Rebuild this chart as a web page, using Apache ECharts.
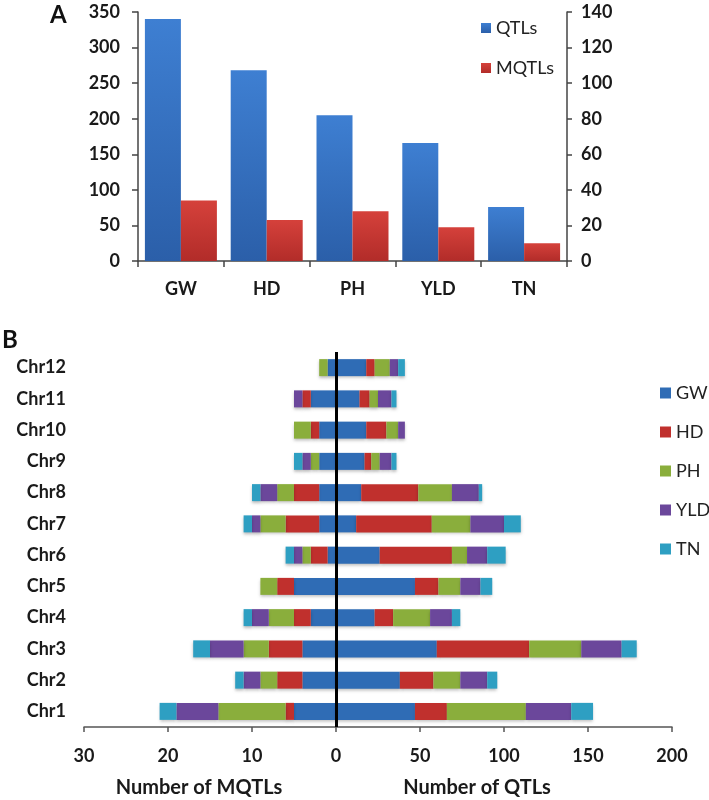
<!DOCTYPE html>
<html>
<head>
<meta charset="utf-8">
<script src="https://cdn.jsdelivr.net/npm/echarts@6/dist/echarts.min.js"></script>
<style>
html, body { margin: 0; padding: 0; background: #fff; }
#main { width: 709px; height: 800px; }
</style>
</head>
<body>
<div id="main"></div>
<script>
// panel A: totals per trait
var traits = ['GW', 'HD', 'PH', 'YLD', 'TN'];
var qtlTotals = [340, 268, 205, 166, 76];
var mqtlTotals = [34, 23, 28, 19, 10];

// panel B: counts per chromosome (Chr1 .. Chr12), one array per trait
var chromosomes = ['Chr1', 'Chr2', 'Chr3', 'Chr4', 'Chr5', 'Chr6', 'Chr7', 'Chr8', 'Chr9', 'Chr10', 'Chr11', 'Chr12'];
var mqtlGW  = [5, 4, 4, 3, 5, 1, 2, 2, 2, 2, 3, 1];
var mqtlHD  = [1, 3, 4, 2, 2, 2, 4, 3, 0, 1, 1, 0];
var mqtlPH  = [8, 2, 3, 3, 2, 1, 3, 2, 1, 2, 0, 1];
var mqtlYLD = [5, 2, 4, 2, 0, 1, 1, 2, 1, 0, 1, 0];
var mqtlTN  = [2, 1, 2, 1, 0, 1, 1, 1, 1, 0, 0, 0];
var qtlGW   = [47, 38, 60, 23, 47, 26, 12, 15, 17, 18, 14, 18];
var qtlHD   = [19, 20, 55, 11, 14, 43, 45, 34, 4, 12, 6, 5];
var qtlPH   = [47, 16, 31, 22, 13, 9, 23, 20, 5, 7, 5, 9];
var qtlYLD  = [27, 16, 24, 13, 12, 12, 20, 16, 7, 4, 8, 5];
var qtlTN   = [13, 6, 9, 5, 7, 11, 10, 2, 3, 0, 3, 4];

var mqtlByTrait = [mqtlGW, mqtlHD, mqtlPH, mqtlYLD, mqtlTN];
var qtlByTrait = [qtlGW, qtlHD, qtlPH, qtlYLD, qtlTN];

// 1 MQTL takes the same width as 5 QTLs on the shared axis (30 <-> 150)
var mqtlScale = 5;

var traitColors = ['#2f6cb5', '#c0302d', '#8aae3c', '#6b479b', '#2e9fc2'];
var fontName = 'Lato';

var seriesB = [];
for (var i = 0; i < traits.length; i++) {
    var shadow = {
        color: traitColors[i],
        shadowColor: 'rgba(0,0,0,0.25)',
        shadowBlur: 3,
        shadowOffsetY: 2
    };
    seriesB.push({
        name: traits[i],
        type: 'bar',
        xAxisIndex: 1,
        yAxisIndex: 2,
        stack: 'mqtl',
        barWidth: 17,
        barGap: '-100%',
        itemStyle: shadow,
        data: mqtlByTrait[i].map(function (v) { return -v * mqtlScale; })
    });
    seriesB.push({
        name: traits[i],
        type: 'bar',
        xAxisIndex: 1,
        yAxisIndex: 2,
        stack: 'qtl',
        barWidth: 17,
        barGap: '-100%',
        itemStyle: shadow,
        data: qtlByTrait[i]
    });
}
// thick zero line between the two halves
seriesB[seriesB.length - 1].markLine = {
    silent: true,
    symbol: ['none', 'none'],
    label: { show: false },
    lineStyle: { color: '#000', width: 3, type: 'solid' },
    data: [{ xAxis: 0 }]
};

var labelStyle = { color: '#1a1a1a', fontFamily: fontName, fontWeight: 'bold', fontSize: 18 };
var axisLineStyle = { lineStyle: { color: '#444', width: 1.5 } };

var option = {
    animation: false,
    backgroundColor: '#fff',
    grid: [
        { left: 138, right: 142, top: 12, bottom: 539 },
        { left: 84, right: 37, top: 352, bottom: 73 }
    ],
    legend: [
        {
            data: ['QTLs', 'MQTLs'],
            orient: 'vertical',
            left: 476,
            top: 14,
            itemWidth: 10,
            itemHeight: 10,
            itemGap: 22,
            icon: 'rect',
            textStyle: { fontFamily: fontName, fontSize: 18, color: '#222' }
        },
        {
            data: traits,
            orient: 'vertical',
            left: 655,
            top: 379,
            itemWidth: 11,
            itemHeight: 11,
            itemGap: 21,
            icon: 'rect',
            textStyle: { fontFamily: fontName, fontSize: 18, color: '#222' }
        }
    ],
    xAxis: [
        {
            type: 'category',
            gridIndex: 0,
            data: traits,
            axisLine: axisLineStyle,
            axisTick: { show: true, length: 6, lineStyle: { color: '#444', width: 1.5 } },
            axisLabel: Object.assign({ margin: 19 }, labelStyle)
        },
        {
            type: 'value',
            gridIndex: 1,
            min: -30 * mqtlScale,
            max: 200,
            interval: 50,
            splitLine: { show: false },
            axisLine: { show: true, lineStyle: { color: '#555', width: 1.5 } },
            axisTick: { show: true, length: 5, lineStyle: { color: '#555', width: 1.5 } },
            axisLabel: Object.assign({
                margin: 20,
                formatter: function (v) { return v < 0 ? String(-v / mqtlScale) : String(v); }
            }, labelStyle)
        }
    ],
    yAxis: [
        {
            type: 'value',
            gridIndex: 0,
            min: 0,
            max: 350,
            interval: 50,
            splitLine: { show: false },
            axisLine: { show: true, lineStyle: { color: '#444', width: 1.5 } },
            axisTick: { show: true, length: 6, lineStyle: { color: '#444', width: 1.5 } },
            axisLabel: Object.assign({ margin: 18 }, labelStyle)
        },
        {
            type: 'value',
            gridIndex: 0,
            position: 'right',
            min: 0,
            max: 140,
            interval: 20,
            splitLine: { show: false },
            axisLine: { show: true, lineStyle: { color: '#444', width: 1.5 } },
            axisTick: { show: true, length: 5, lineStyle: { color: '#444', width: 1.5 } },
            axisLabel: Object.assign({ margin: 14 }, labelStyle)
        },
        {
            type: 'category',
            gridIndex: 1,
            data: chromosomes,
            axisLine: { show: false, onZero: false },
            axisTick: { show: false },
            axisLabel: Object.assign({ margin: 18 }, labelStyle)
        }
    ],
    graphic: [
        { type: 'text', left: 50, top: 3, style: { text: 'A', fontFamily: fontName, fontWeight: 'bold', fontSize: 24, fill: '#111' } },
        { type: 'text', left: 2, top: 328, style: { text: 'B', fontFamily: fontName, fontWeight: 'bold', fontSize: 24, fill: '#111' } },
        { type: 'text', x: 199, y: 788, style: { text: 'Number of MQTLs', fontFamily: fontName, fontWeight: 'bold', fontSize: 20, fill: '#1a1a1a', align: 'center', verticalAlign: 'middle' } },
        { type: 'text', x: 477, y: 788, style: { text: 'Number of QTLs', fontFamily: fontName, fontWeight: 'bold', fontSize: 20, fill: '#1a1a1a', align: 'center', verticalAlign: 'middle' } }
    ],
    series: [
        {
            name: 'QTLs',
            type: 'bar',
            xAxisIndex: 0,
            yAxisIndex: 0,
            barWidth: 36,
            barGap: '0%',
            itemStyle: {
                color: {
                    type: 'linear', x: 0, y: 0, x2: 0, y2: 1,
                    colorStops: [{ offset: 0, color: '#3e7fd2' }, { offset: 1, color: '#2b5fa9' }]
                }
            },
            data: qtlTotals
        },
        {
            name: 'MQTLs',
            type: 'bar',
            xAxisIndex: 0,
            yAxisIndex: 1,
            barWidth: 36,
            barGap: '0%',
            itemStyle: {
                color: {
                    type: 'linear', x: 0, y: 0, x2: 0, y2: 1,
                    colorStops: [{ offset: 0, color: '#d5413b' }, { offset: 1, color: '#b22c29' }]
                }
            },
            data: mqtlTotals
        }
    ].concat(seriesB)
};

var myChart = echarts.init(document.getElementById('main'));
myChart.setOption(option);
</script>
</body>
</html>
